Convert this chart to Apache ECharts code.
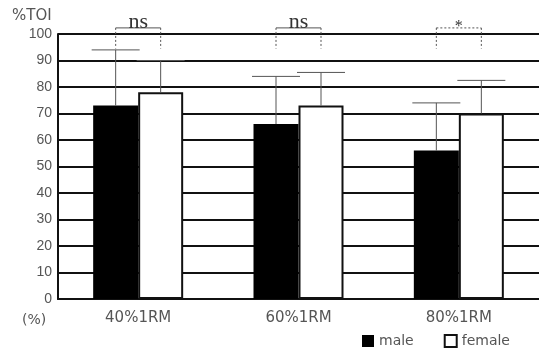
<!DOCTYPE html>
<html>
<head>
<meta charset="utf-8">
<script src="https://cdn.jsdelivr.net/npm/echarts@6/dist/echarts.min.js"></script>
<style>html,body{margin:0;padding:0;background:#fff;}#c{width:539px;height:349px;}</style>
</head>
<body>
<div id="c"></div>
<script>
const categories = ['40%1RM', '60%1RM', '80%1RM'];
const maleValues = [73, 66, 56];
const femaleValues = [78, 73, 70];
const maleErrTop = [94, 84, 74];
const femaleErrTop = [90, 85.5, 82.5];
const sigLabels = ['ns', 'ns', '*'];
const sigBracketLevel = 102.3;
const sigDropLevel = 94.5;

const chart = echarts.init(document.getElementById('c'), null, {renderer: 'canvas'});
const BAR_W = 45;
const textColor = '#555';

function errSeries(values, tops, side) {
  return {
    type: 'custom',
    z: 5,
    silent: true,
    data: values.map((v, i) => [i, v, tops[i]]),
    renderItem: function (params, api) {
      const cx = api.coord([api.value(0), 0])[0] + side * BAR_W / 2;
      const yb = api.coord([0, api.value(1)])[1];
      const yt = api.coord([0, api.value(2)])[1];
      const st = {stroke: '#555', lineWidth: 1};
      return {
        type: 'group',
        children: [
          {type: 'line', shape: {x1: cx, y1: yb, x2: cx, y2: yt}, style: st},
          {type: 'line', shape: {x1: cx - 24, y1: yt, x2: cx + 24, y2: yt}, style: st}
        ]
      };
    }
  };
}

const option = {
  animation: false,
  grid: {left: 58, right: -3, top: 34, bottom: 50},
  legend: {
    data: ['male', 'female'],
    left: 362, top: 334, padding: 0,
    itemWidth: 12, itemHeight: 12, itemGap: 30,
    icon: 'rect',
    textStyle: {fontFamily: 'DejaVu Sans', fontSize: 14, color: textColor}
  },
  xAxis: {
    type: 'category',
    data: categories,
    axisLine: {lineStyle: {color: '#111', width: 2}},
    axisTick: {show: false},
    axisLabel: {margin: 12, fontFamily: 'DejaVu Sans', fontSize: 15, color: textColor}
  },
  yAxis: {
    type: 'value',
    min: 0, max: 100, interval: 10,
    axisLine: {show: true, lineStyle: {color: '#111', width: 2}},
    axisTick: {show: false},
    axisLabel: {margin: 6, fontFamily: 'Liberation Sans', fontSize: 14, color: textColor},
    splitLine: {lineStyle: {color: '#111', width: 2}}
  },
  graphic: [
    {type: 'text', left: 12, top: 9, style: {text: '%TOI', fontFamily: 'DejaVu Sans', fontSize: 15, fill: textColor}},
    {type: 'text', left: 22, top: 313, style: {text: '(%)', fontFamily: 'DejaVu Sans', fontSize: 14, fill: textColor}}
  ],
  series: [
    {
      name: 'male', type: 'bar', data: maleValues, barWidth: BAR_W, barGap: '0%',
      itemStyle: {color: '#000'}, z: 3
    },
    {
      name: 'female', type: 'bar', data: femaleValues, barWidth: BAR_W, barGap: '0%',
      itemStyle: {color: '#fff', borderColor: '#111', borderWidth: 2}, z: 3
    },
    errSeries(maleValues, maleErrTop, -1),
    errSeries(femaleValues, femaleErrTop, 1),
    {
      type: 'custom', z: 6, silent: true,
      data: sigLabels.map((s, i) => [i, sigBracketLevel, sigDropLevel]),
      renderItem: function (params, api) {
        const i = params.dataIndex;
        const cx = api.coord([api.value(0), 0])[0];
        const yt = api.coord([0, api.value(1)])[1];
        const yd = api.coord([0, api.value(2)])[1];
        const xl = cx - BAR_W / 2, xr = cx + BAR_W / 2;
        const dash = {stroke: '#555', lineWidth: 1, lineDash: [2, 2]};
        const solid = {stroke: '#555', lineWidth: 1};
        const lab = sigLabels[i];
        return {
          type: 'group',
          children: [
            {type: 'line', shape: {x1: xl, y1: yt, x2: xr, y2: yt}, style: lab === '*' ? dash : solid},
            {type: 'line', shape: {x1: xl, y1: yt, x2: xl, y2: yd}, style: dash},
            {type: 'line', shape: {x1: xr, y1: yt, x2: xr, y2: yd}, style: dash},
            {type: 'text', x: cx, y: yt + (lab === '*' ? 7 : 5), style: {
              text: lab, fontFamily: 'Liberation Serif', fontSize: lab === '*' ? 16 : 22,
              fill: '#333', align: 'center', verticalAlign: 'bottom'
            }}
          ]
        };
      }
    }
  ]
};
chart.setOption(option);
</script>
</body>
</html>
